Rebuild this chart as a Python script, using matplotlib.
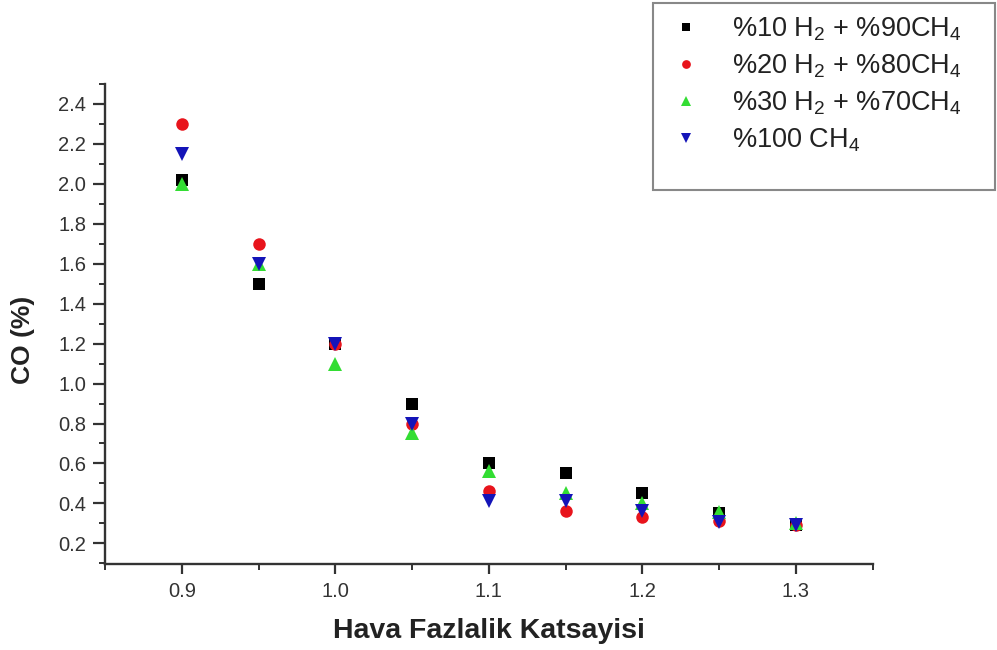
import matplotlib
matplotlib.use("Agg")
import matplotlib.pyplot as plt
from matplotlib.ticker import MultipleLocator
from matplotlib.patches import Rectangle

plt.rcParams['font.family'] = ['Liberation Sans', 'DejaVu Sans']
plt.rcParams['mathtext.fontset'] = 'custom'
plt.rcParams['mathtext.rm'] = 'Liberation Sans'
plt.rcParams['mathtext.it'] = 'Liberation Sans:italic'
plt.rcParams['mathtext.bf'] = 'Liberation Sans:bold'

x = [0.9, 0.95, 1.0, 1.05, 1.1, 1.15, 1.2, 1.25, 1.3]
h2_10 = [2.02, 1.5, 1.2, 0.9, 0.6, 0.55, 0.45, 0.35, 0.29]
h2_20 = [2.3, 1.7, 1.2, 0.8, 0.46, 0.36, 0.33, 0.31, 0.29]
h2_30 = [2.0, 1.6, 1.1, 0.75, 0.56, 0.45, 0.40, 0.355, 0.30]
ch4_100 = [2.15, 1.6, 1.2, 0.8, 0.41, 0.41, 0.36, 0.305, 0.29]

labels = [r'%10 H$_2$ + %90CH$_4$', r'%20 H$_2$ + %80CH$_4$',
          r'%30 H$_2$ + %70CH$_4$', r'%100 CH$_4$']
series = [h2_10, h2_20, h2_30, ch4_100]
colors = ['#000000', '#e8141c', '#33dd33', '#1414b8']
markers = ['s', 'o', '^', 'v']
msizes = [8.5, 9.0, 10.0, 10.0]

fig = plt.figure(figsize=(9.97, 6.5), dpi=100)
ax = fig.add_axes([105/997, 1-564.3/650, (872.7-105)/997, (564.3-84)/650])

handles = []
for ys, c, m, ms, lab in zip(series, colors, markers, msizes, labels):
    h, = ax.plot(x, ys, linestyle='none', marker=m, color=c, markersize=ms,
                 markeredgewidth=0, label=lab)
    handles.append(h)

ax.set_xlim(0.85, 1.35)
ax.set_ylim(0.095, 2.5)
ax.xaxis.set_minor_locator(MultipleLocator(0.05))
ax.yaxis.set_minor_locator(MultipleLocator(0.1))
ax.set_xticks([0.9, 1.0, 1.1, 1.2, 1.3])
ax.set_xticklabels(['0.9', '1.0', '1.1', '1.2', '1.3'])
ax.set_yticks([0.2, 0.4, 0.6, 0.8, 1.0, 1.2, 1.4, 1.6, 1.8, 2.0, 2.2, 2.4])
ax.set_yticklabels(['0.2', '0.4', '0.6', '0.8', '1.0', '1.2', '1.4', '1.6',
                    '1.8', '2.0', '2.2', '2.4'])

for s in ['top', 'right']:
    ax.spines[s].set_visible(False)
for s in ['left', 'bottom']:
    ax.spines[s].set_linewidth(1.7)
    ax.spines[s].set_color('#333333')

ax.tick_params(axis='y', which='major', direction='out', length=8.5, width=1.6,
               color='#333333', labelsize=14.5, labelcolor='#333333', pad=5)
ax.tick_params(axis='y', which='minor', direction='out', length=4.5, width=1.4,
               color='#333333')
ax.tick_params(axis='x', which='major', direction='out', length=7, width=1.6,
               color='#333333', labelsize=14.5, labelcolor='#333333', pad=6)
ax.tick_params(axis='x', which='minor', direction='out', length=4, width=1.4,
               color='#333333')

ax.set_xlabel('Hava Fazlalik Katsayisi', fontsize=20.5, fontweight='bold',
              color='#222222', labelpad=12)
ax.set_ylabel('CO (%)', fontsize=19, fontweight='bold', color='#222222')
ax.yaxis.set_label_coords(-0.091, 0.467)

leg = fig.legend(handles=handles, labels=labels, loc='upper left',
                 bbox_to_anchor=(653/997, 1-190/650, 342/997, 187/650),
                 mode='expand', fontsize=19.5, frameon=False,
                 markerscale=0.7, handletextpad=0.95,
                 borderpad=0.45, labelspacing=0.35, handlelength=1.5,
                 borderaxespad=0)
for t in leg.get_texts():
    t.set_color('#222222')

fig.patches.append(Rectangle((653/997, 1-190/650), 342/997, 187/650,
                             transform=fig.transFigure, fill=False,
                             edgecolor='#888888', linewidth=1.5))

fig.savefig('out.png', dpi=100)
